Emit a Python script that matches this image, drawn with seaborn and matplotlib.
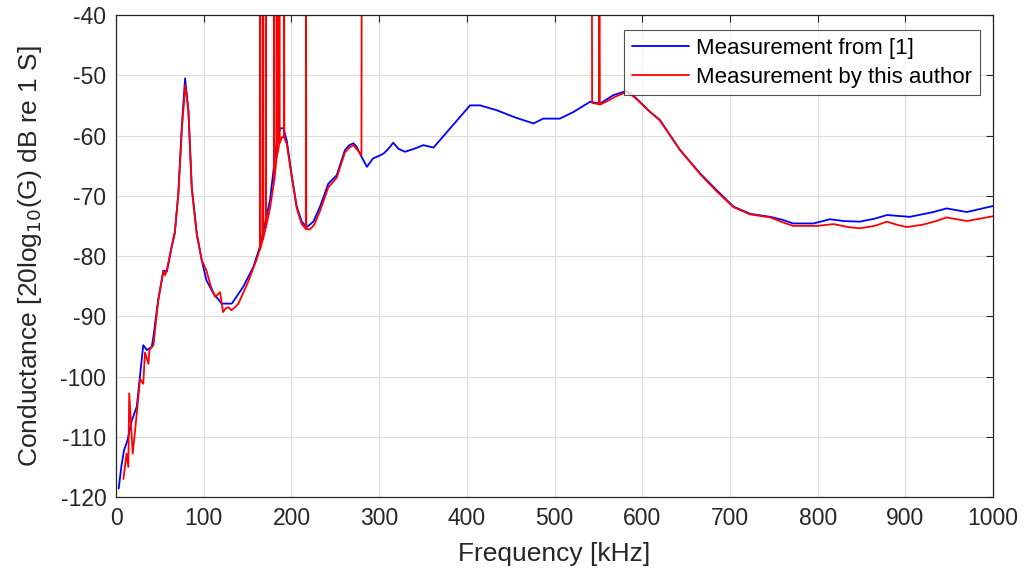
import numpy as np
import pandas as pd
import matplotlib
matplotlib.use("Agg")
import matplotlib.pyplot as plt
import seaborn as sns

# ---- data ----
blue_f = [3, 6, 9, 13, 18, 23.6, 31, 35, 40.7, 42.6, 48, 54, 58, 63.5, 67, 71, 75, 78.7,
          82.5, 86.3, 92, 97.7, 103, 111, 120.5, 132, 145, 156.6, 164, 175.6, 183, 187,
          190.7, 194.6, 200, 206, 211.7, 217.4, 225, 232.6, 242, 251.6, 261, 266, 270.6,
          274, 278, 286, 293, 301, 305, 310, 316, 322, 329.5, 340, 350.4, 356, 362,
          403.6, 415, 434, 455, 476, 487, 506, 521.5, 540.5, 552, 567, 582, 590, 609,
          620, 643, 666, 685, 704, 723, 746, 760, 772, 795, 814, 830, 848, 865, 879,
          905, 932, 947, 970, 985, 1000]
blue_y = [-118.6, -115, -112.3, -110.6, -107.3, -105, -94.8, -95.6, -95.1, -93.4, -87.3,
          -82.4, -82.6, -78.5, -76.2, -69.6, -58.5, -50.5, -55.8, -68.5, -76.2, -80.7,
          -84, -86.2, -87.9, -87.9, -85.1, -81.8, -78.5, -70.7, -61.3, -58.8, -58.8,
          -60.8, -66.3, -71.8, -74.3, -75.2, -74.3, -71.8, -68, -66.6, -62.4, -61.6,
          -61.3, -61.8, -63, -65.2, -63.8, -63.3, -63, -62.3, -61.2, -62.2, -62.7,
          -62.2, -61.6, -61.8, -62, -55, -55, -55.8, -57, -58, -57.2, -57.2, -56.1,
          -54.4, -54.7, -53.3, -52.6, -53.4, -56.1, -57.4, -62.4, -66.3, -69.1, -71.8,
          -73, -73.5, -74, -74.6, -74.6, -73.9, -74.2, -74.3, -73.8, -73.2, -73.5,
          -72.7, -72.1, -72.7, -72.2, -71.7]

# author's measurement, first band (with spikes)
red1_f = [8.4, 12, 14, 15, 19, 21.7, 27.4, 31, 33, 37, 38, 42.6, 48, 54, 56, 58, 63.5,
          67, 71, 75, 79, 82.5, 86.3, 92, 97.7, 103, 108, 113, 118.6, 122, 125, 128,
          131.6, 135.7, 139.5, 150, 160, 164.0, 164.2, 164.5, 167.0, 167.3, 167.6, 170.5,
          170.7, 171.0, 175.6, 180.0, 180.2, 180.5, 183.0, 183.2, 183.5, 186.0, 186.2,
          186.5, 189, 191.4, 191.6, 191.9, 194.6, 200, 206, 211.7, 216.4, 216.6, 216.9,
          221, 226, 232.6, 242, 251.6, 261, 266, 270.6, 274, 279.8, 280.2]
red1_y = [-117, -112.8, -115, -102.8, -112.8, -109, -100.4, -101.2, -96, -97.9, -95.6,
          -94.8, -87.5, -82.5, -83.2, -82.2, -78.3, -76, -69.8, -59, -51.6, -56, -68.8,
          -76.4, -80.7, -82.4, -85, -86.8, -86, -89.3, -88.7, -88.5, -89, -88.5, -87.9,
          -84.5, -80.7, -78.8, -20, -78.8, -77.4, -20, -77.2, -75.4, -20, -75.2, -72,
          -67.8, -20, -67.4, -63.8, -20, -63.5, -61.5, -20, -61.3, -60.3, -60.2, -20,
          -60.4, -61.4, -66.6, -72.1, -74.7, -75.5, -20, -75.5, -75.6, -74.8, -72.5,
          -68.6, -67, -62.8, -62, -61.6, -62.2, -63.2, -20]

# author's measurement, second band (with spikes)
red2_f = [542.4, 542.8, 550.6, 551.1, 551.6, 560, 570, 582, 590, 609, 620, 643, 666, 685,
          704, 723, 746, 760, 772, 800, 818, 835, 848, 865, 879, 890, 901.6, 920, 935,
          947, 970, 1000]
red2_y = [-20, -54.6, -54.8, -20, -54.9, -54.3, -53.5, -52.8, -53.5, -56.1, -57.5, -62.4,
          -66.4, -69.3, -71.9, -73.1, -73.6, -74.4, -75, -75, -74.7, -75.2, -75.4, -75,
          -74.3, -74.8, -75.2, -74.8, -74.2, -73.6, -74.2, -73.4]

x_ticks = [0, 100, 200, 300, 400, 500, 600, 700, 800, 900, 1000]
y_ticks = [-120, -110, -100, -90, -80, -70, -60, -50, -40]

sns.set_theme(style="white")
plt.rcParams['font.family'] = ['Liberation Sans', 'DejaVu Sans']
plt.rcParams['axes.unicode_minus'] = False

fig = plt.figure(figsize=(10.27, 5.79), dpi=100)
ax = fig.add_axes([0.113, 0.1416, 0.854, 0.8325])

sns.lineplot(x=blue_f, y=blue_y, ax=ax, color=(0, 0, 1), linewidth=1.3,
             label="Measurement from [1]", estimator=None)
sns.lineplot(x=red1_f, y=red1_y, ax=ax, color=(1, 0, 0), linewidth=1.3,
             label="Measurement by this author", estimator=None)
sns.lineplot(x=red2_f, y=red2_y, ax=ax, color=(1, 0, 0), linewidth=1.3,
             estimator=None, legend=False)

ax.set_xlim(0, 1000)
ax.set_ylim(-120, -40)
ax.set_xticks(x_ticks)
ax.set_yticks(y_ticks)
ax.grid(True, color="#dcdcdc", linewidth=0.8)
ax.set_axisbelow(True)
for s in ax.spines.values():
    s.set_color("#262626")
    s.set_linewidth(0.9)
ax.tick_params(direction="in", length=5, width=0.8, colors="#262626",
               top=True, right=True, labelsize=16.5, pad=7)
ax.set_xlabel("Frequency [kHz]", fontsize=19, color="#262626", labelpad=9)
ax.set_ylabel("Conductance [20log$_{10}$(G) dB re 1 S]", fontsize=19, color="#262626",
              labelpad=12)

leg = ax.legend(loc="upper right", bbox_to_anchor=(0.99, 0.978), fontsize=16,
                frameon=True, fancybox=False, borderpad=0.35, labelspacing=0.35,
                handlelength=2.6, handletextpad=0.3, borderaxespad=0.2)
leg.get_frame().set_edgecolor("#262626")
leg.get_frame().set_linewidth(0.8)
for t in leg.get_texts():
    t.set_color("black")

fig.savefig("out.png", dpi=100, facecolor="white")
